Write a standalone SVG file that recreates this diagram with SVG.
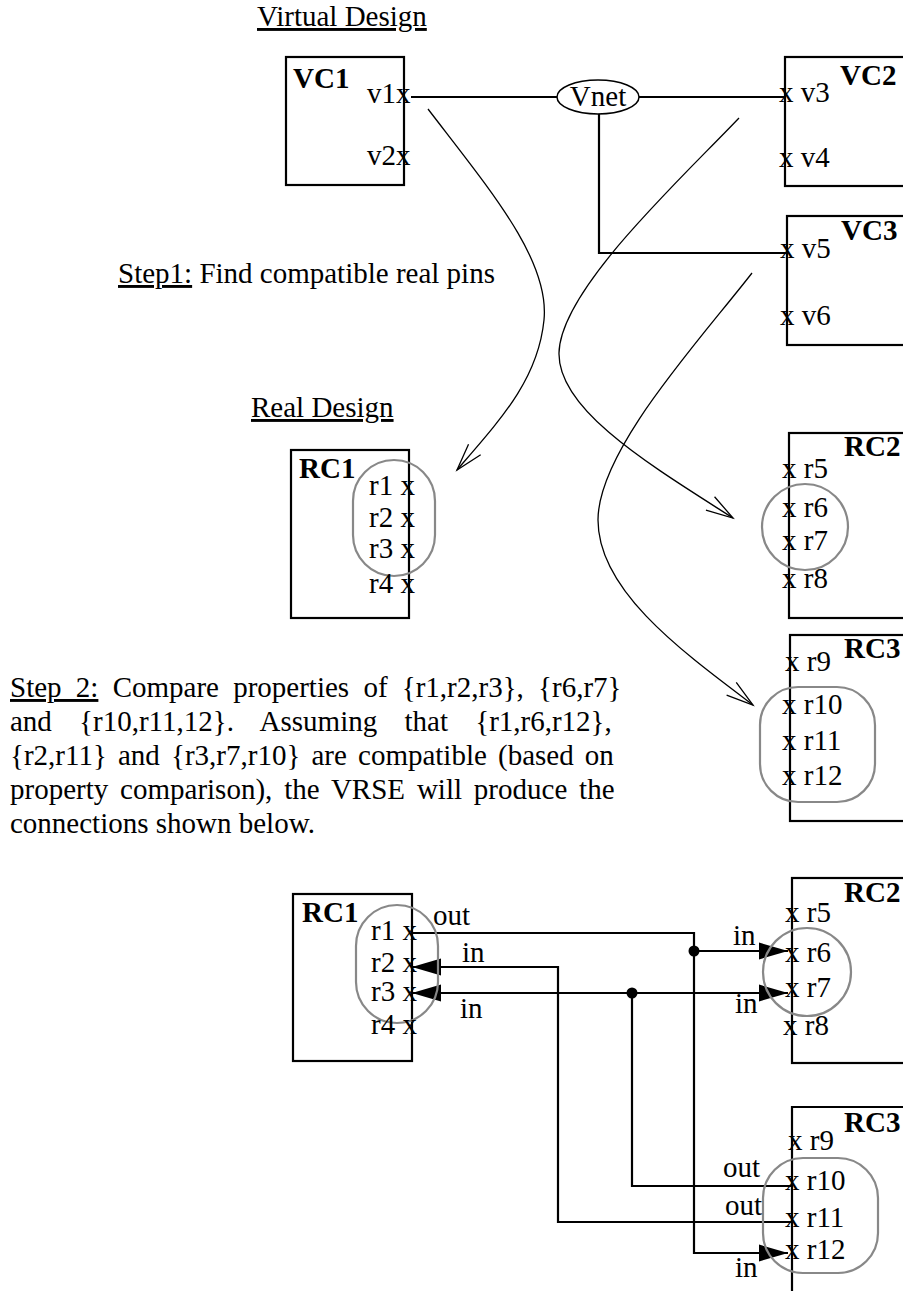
<svg xmlns="http://www.w3.org/2000/svg" width="903" height="1291" viewBox="0 0 903 1291">
<style>
text{font-family:"Liberation Serif","Times New Roman",serif;font-size:29px;fill:#000}
.b{font-weight:bold;font-size:29px}
.u{text-decoration:underline}
.box{fill:none;stroke:#000;stroke-width:2.2}
.grp{fill:none;stroke:#888;stroke-width:2.2}
.w{fill:none;stroke:#000;stroke-width:2.2}
.c{fill:none;stroke:#000;stroke-width:1.3}
</style>
<defs>
<marker id="open" markerUnits="userSpaceOnUse" viewBox="-32 -14 36 28" markerWidth="36" markerHeight="28" refX="0" refY="0" orient="auto"><path d="M-27,-8 L0,0 L-27,8" fill="none" stroke="#000" stroke-width="1.3"/></marker>
<marker id="fill" markerUnits="userSpaceOnUse" viewBox="-32 -12 34 24" markerWidth="34" markerHeight="24" refX="0" refY="0" orient="auto"><path d="M-29,-8.5 L0,0 L-29,8.5 Z" fill="#000"/></marker>
</defs>

<text x="257" y="26" class="u">Virtual Design</text>
<text x="118" y="283"><tspan class="u">Step1:</tspan> Find compatible real pins</text>
<text x="251" y="417" class="u">Real Design</text>

<g id="step2">
<text x="10" y="697" style="word-spacing:7px"><tspan class="u">Step 2:</tspan> Compare properties of {r1,r2,r3}, {r6,r7}</text>
<text x="10" y="731" style="word-spacing:20px">and {r10,r11,12}. Assuming that {r1,r6,r12},</text>
<text x="10" y="765" style="word-spacing:3.9px">{r2,r11} and {r3,r7,r10} are compatible (based on</text>
<text x="10" y="799" style="word-spacing:4.6px">property comparison), the VRSE will produce the</text>
<text x="10" y="833">connections shown below.</text>
</g>

<g id="connectors">
<path class="w" d="M411,97 H557 M639,97 H785 M599,114 V253 H787"/>
<path class="c" marker-end="url(#open)" d="M428,109 C490,190 550,260 544,320 C538,380 500,420 457,470"/>
<path class="c" marker-end="url(#open)" d="M739,118 C680,180 560,290 559,353 C558,410 650,465 733,518"/>
<path class="c" marker-end="url(#open)" d="M752,273 C700,340 598,450 598,520 C598,590 680,650 753,705"/>
<path class="w" d="M412,933 H694 V1253 H788" marker-end="url(#fill)"/>
<path class="w" d="M694,951 H788" marker-end="url(#fill)"/>
<path class="w" d="M792,1222 H558 V967 H412" marker-end="url(#fill)"/>
<path class="w" d="M792,1186 H632 V993 H412" marker-end="url(#fill)"/>
<path class="w" d="M632,993 H788" marker-end="url(#fill)"/>
<circle cx="694" cy="951" r="5.5"/>
<circle cx="632" cy="993" r="5.5"/>
</g>

<g id="VC1">
<rect class="box" x="286" y="57" width="118" height="128"/>
<text x="293" y="88" class="b">VC1</text>
<text x="367" y="103">v1x</text>
<text x="367" y="165">v2x</text>
</g>
<g id="Vnet">
<ellipse cx="598" cy="97" rx="41" ry="17" fill="#fff" stroke="#000" stroke-width="1.5"/>
<text x="598" y="106" text-anchor="middle">Vnet</text>
</g>
<g id="VC2">
<rect class="box" x="785" y="57" width="140" height="129"/>
<text x="840" y="85" class="b">VC2</text>
<text x="779" y="102">x v3</text>
<text x="779" y="167">x v4</text>
</g>
<g id="VC3">
<rect class="box" x="787" y="216" width="140" height="129"/>
<text x="841" y="240" class="b">VC3</text>
<text x="780" y="258">x v5</text>
<text x="780" y="325">x v6</text>
</g>

<g id="RC1-top">
<rect class="box" x="291" y="450" width="118" height="168"/>
<text x="299" y="478" class="b">RC1</text>
<rect class="grp" x="353" y="460" width="82" height="116" rx="41"/>
<text x="369" y="495">r1 x</text>
<text x="369" y="527">r2 x</text>
<text x="369" y="558">r3 x</text>
<text x="369" y="593">r4 x</text>
</g>
<g id="RC2-top">
<rect class="box" x="789" y="433" width="140" height="185"/>
<text x="844" y="456" class="b">RC2</text>
<circle class="grp" cx="805" cy="527" r="43"/>
<text x="782" y="478">x r5</text>
<text x="782" y="517">x r6</text>
<text x="782" y="550">x r7</text>
<text x="782" y="588">x r8</text>
</g>
<g id="RC3-top">
<rect class="box" x="790" y="635" width="140" height="186"/>
<text x="844" y="658" class="b">RC3</text>
<rect class="grp" x="760" y="687" width="115" height="115" rx="38"/>
<text x="785" y="671">x r9</text>
<text x="782" y="714">x r10</text>
<text x="782" y="750">x r11</text>
<text x="782" y="785">x r12</text>
</g>

<g id="RC1-bottom">
<rect class="box" x="293" y="894" width="119" height="167"/>
<text x="302" y="922" class="b">RC1</text>
<rect class="grp" x="356" y="905" width="82" height="118" rx="41"/>
<text x="371" y="940">r1 x</text>
<text x="371" y="972">r2 x</text>
<text x="371" y="1001">r3 x</text>
<text x="371" y="1034">r4 x</text>
<text x="433" y="925">out</text>
<text x="462" y="962">in</text>
<text x="460" y="1018">in</text>
</g>
<g id="RC2-bottom">
<rect class="box" x="792" y="878" width="140" height="185"/>
<text x="844" y="902" class="b">RC2</text>
<circle class="grp" cx="807" cy="972" r="44"/>
<text x="785" y="922">x r5</text>
<text x="785" y="962">x r6</text>
<text x="785" y="997">x r7</text>
<text x="783" y="1035">x r8</text>
<text x="733" y="945">in</text>
<text x="735" y="1013">in</text>
</g>
<g id="RC3-bottom">
<path class="box" d="M932,1107 H792 V1295"/>
<text x="844" y="1132" class="b">RC3</text>
<rect class="grp" x="763" y="1158" width="115" height="115" rx="40"/>
<text x="788" y="1150">x r9</text>
<text x="785" y="1190">x r10</text>
<text x="785" y="1227">x r11</text>
<text x="785" y="1259">x r12</text>
<text x="723" y="1177">out</text>
<text x="725" y="1215">out</text>
<text x="735" y="1277">in</text>
</g>
</svg>
